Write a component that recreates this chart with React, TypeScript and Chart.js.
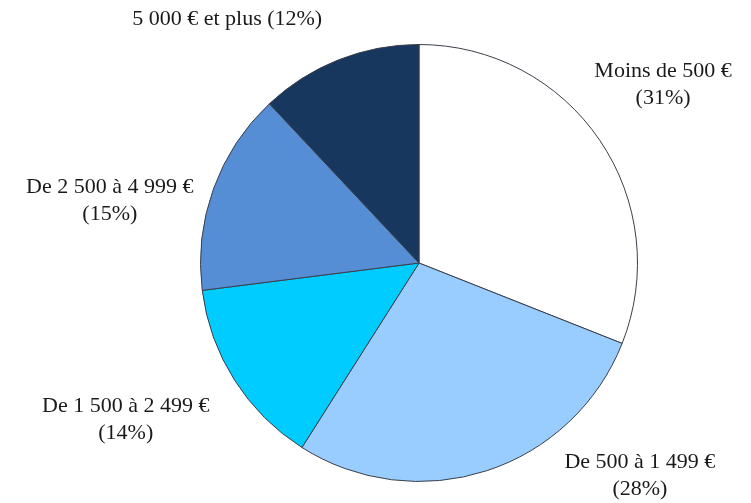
import React, { useEffect, useRef } from "react";
import { Chart, registerables } from "chart.js";

Chart.register(...registerables);

const categories = [
  "Moins de 500 €",
  "De 500 à 1 499 €",
  "De 1 500 à 2 499 €",
  "De 2 500 à 4 999 €",
  "5 000 € et plus",
];
const shares = [31, 28, 14, 15, 12];
const sliceColors = ["#FFFFFF", "#99CCFF", "#00CCFF", "#558ED5", "#17375E"];
// label box centre, in units of the pie radius, relative to the pie centre
const labelOffsets: [number, number][] = [
  [1.117, -0.817],
  [1.011, 0.972],
  [-1.342, 0.716],
  [-1.415, -0.284],
  [-0.878, -1.115],
];
const labelSingleLine = [false, false, false, false, true];

const labelPlugin = {
  id: "outsideLabels",
  afterDraw(chart: any) {
    const ctx = chart.ctx;
    const meta = chart.getDatasetMeta(0);
    ctx.save();
    ctx.font = '22px "Liberation Serif", "Times New Roman", serif';
    ctx.fillStyle = "#1a1a1a";
    ctx.textAlign = "center";
    ctx.textBaseline = "middle";
    const lh = 27;
    meta.data.forEach((arc: any, i: number) => {
      const r = arc.outerRadius;
      const cx = arc.x + labelOffsets[i][0] * r;
      const cy = arc.y + labelOffsets[i][1] * r;
      const pct = "(" + shares[i] + "%)";
      if (labelSingleLine[i]) {
        ctx.fillText(categories[i] + " " + pct, cx, cy);
      } else {
        ctx.fillText(categories[i], cx, cy - lh / 2);
        ctx.fillText(pct, cx, cy + lh / 2);
      }
    });
    ctx.restore();
  },
};

export default function App() {
  const ref = useRef<HTMLCanvasElement>(null);
  useEffect(() => {
    if (!ref.current) return;
    const chart = new Chart(ref.current, {
      type: "pie",
      data: {
        labels: categories,
        datasets: [
          {
            data: shares,
            backgroundColor: sliceColors,
            borderColor: "#3a3f4a",
            borderWidth: 1,
          },
        ],
      },
      options: {
        animation: false,
        responsive: false,
        maintainAspectRatio: false,
        layout: { padding: { top: 44, bottom: 21, left: 200, right: 113 } },
        plugins: {
          legend: { display: false },
          tooltip: { enabled: false },
        },
      },
      plugins: [labelPlugin],
    });
    return () => chart.destroy();
  }, []);
  return (
    <div style={{ position: "fixed", left: 0, top: 0, width: 751, height: 503, background: "#fff" }}>
      <canvas ref={ref} width={751} height={503} style={{ display: "block" }} />
    </div>
  );
}
